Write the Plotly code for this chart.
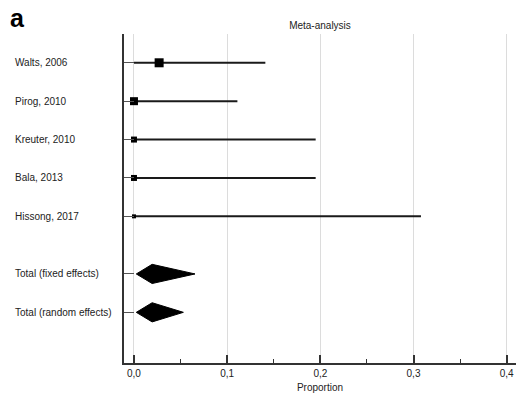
import plotly.graph_objects as go

# Data
studies = ["Walts, 2006", "Pirog, 2010", "Kreuter, 2010", "Bala, 2013", "Hissong, 2017"]
est = [0.027, 0.0, 0.0, 0.0, 0.0]
lower = [0.0, 0.0, 0.0, 0.0, 0.0]
upper = [0.141, 0.111, 0.195, 0.195, 0.308]
weights = [9, 8, 6, 6, 4]  # marker size ~ weight
study_pos = [0, 1, 2, 3, 4]

totals = ["Total (fixed effects)", "Total (random effects)"]
tot_est = [0.0195, 0.0195]
tot_lower = [0.0025, 0.0025]
tot_upper = [0.0655, 0.053]
tot_pos = [5.5, 6.5]

xticks = [0.0, 0.1, 0.2, 0.3, 0.4]

FONT = "Liberation Sans, Arial, sans-serif"
W, L = 516, 124
fig = go.Figure()

# CI lines
for i in range(len(studies)):
    fig.add_trace(go.Scatter(x=[lower[i], upper[i]], y=[study_pos[i]] * 2, mode="lines",
                             line=dict(color="#1a1a1a", width=2), showlegend=False, hoverinfo="skip"))
# point estimates
fig.add_trace(go.Scatter(x=est, y=study_pos, mode="markers",
                         marker=dict(symbol="square", size=weights, color="black", opacity=1,
                                     line=dict(width=0)),
                         showlegend=False))

# diamonds
h = 0.25
for i in range(len(totals)):
    y0 = tot_pos[i]
    fig.add_trace(go.Scatter(x=[tot_lower[i], tot_est[i], tot_upper[i], tot_est[i], tot_lower[i]],
                             y=[y0, y0 - h, y0, y0 + h, y0], mode="lines", fill="toself",
                             fillcolor="black", line=dict(color="black", width=1),
                             showlegend=False, hoverinfo="skip"))

labels = studies + totals
pos = study_pos + tot_pos
for lab, p in zip(labels, pos):
    fig.add_annotation(text=lab, x=(13 - L) / (W - L), xref="paper", y=p, yref="y", showarrow=False,
                       xanchor="left", yanchor="middle", font=dict(family=FONT, size=10, color="#222"))

fig.add_annotation(text="<b>a</b>", x=(8 - L) / (W - L), xref="paper", y=1, yref="paper",
                   yshift=16, showarrow=False, xanchor="left", yanchor="middle",
                   font=dict(family=FONT, size=25, color="black"))

fig.update_layout(
    width=516, height=400,
    margin=dict(l=L, r=0, t=34, b=37, autoexpand=False),
    plot_bgcolor="white", paper_bgcolor="white",
    separators=",.",
    title=dict(text="Meta-analysis", x=320 / 516, xanchor="center", y=1 - 25 / 400,
               yref="container", yanchor="middle", font=dict(family=FONT, size=10, color="#222")),
    font=dict(family=FONT, size=10, color="#222"),
)
fig.update_xaxes(range=[-0.0107, 0.41], tickvals=xticks, tickformat=".1f", automargin=False,
                 showgrid=True, gridcolor="#dcdcdc", gridwidth=1, zeroline=False,
                 showline=True, linecolor="#333", linewidth=2,
                 ticks="inside", ticklen=8, tickwidth=2, tickcolor="#333",
                 minor=dict(dtick=0.05, tick0=0, ticks="inside", ticklen=4, tickwidth=1, tickcolor="#333", showgrid=False),
                 title=dict(text="Proportion", standoff=6, font=dict(family=FONT, size=10, color="#222")),
                 tickfont=dict(family=FONT, size=10, color="#222"))
fig.update_yaxes(range=[7.82, -0.75], tickvals=pos, showticklabels=False, automargin=False,
                 showgrid=False, zeroline=False, showline=True, linecolor="#333", linewidth=2,
                 ticks="inside", ticklen=10, tickwidth=1, tickcolor="#555")

fig.write_html("out.html", config={"displayModeBar": False},
               post_script="document.body.style.margin='0px';document.body.style.overflow='hidden';")
